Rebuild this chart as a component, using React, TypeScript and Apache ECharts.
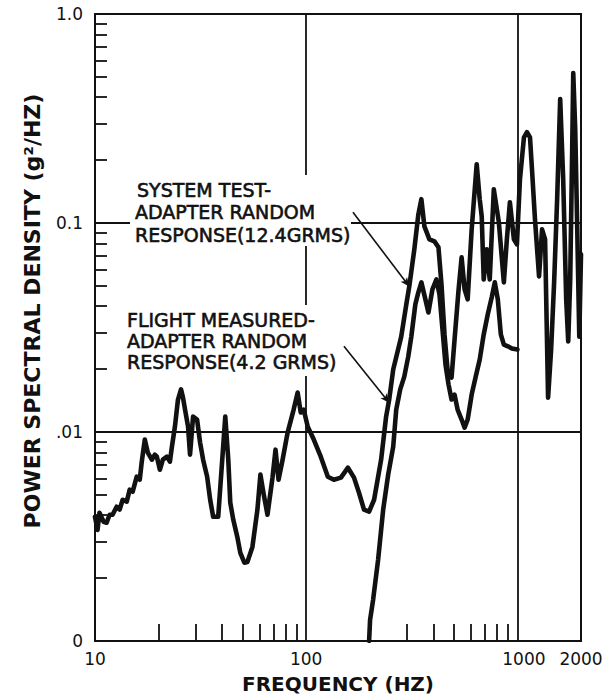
import React, { useEffect, useRef } from "react";
import * as echarts from "echarts";

// [frequency Hz, PSD g^2/Hz]
const systemTest: [number, number][] = [
  [10, 0.00393], [10.28, 0.0034], [10.5, 0.00411], [10.98, 0.00372], [11.35, 0.00368],
  [11.72, 0.00402], [12.11, 0.00402], [12.66, 0.00439], [13.08, 0.00425], [13.52, 0.00474],
  [14.13, 0.00464], [14.6, 0.0053], [15.08, 0.00518], [15.76, 0.00611], [16.29, 0.00591],
  [16.65, 0.00721], [17.21, 0.0092], [17.78, 0.00797], [18.58, 0.00737], [19.2, 0.00779],
  [19.63, 0.00762], [20.28, 0.0066], [20.96, 0.00737], [21.9, 0.00762], [22.63, 0.00721],
  [23.13, 0.00851], [23.9, 0.0106], [24.71, 0.0143], [25.54, 0.016], [26.1, 0.0146],
  [26.69, 0.0128], [27.58, 0.0106], [28.18, 0.00779], [29.13, 0.01185], [30.43, 0.01147],
  [31.45, 0.0089], [32.5, 0.00737], [33.96, 0.00611], [35.1, 0.00474], [36.27, 0.00393],
  [38.31, 0.00393], [40.04, 0.00737], [41.38, 0.01185], [42.76, 0.00737], [43.7, 0.00459],
  [45.16, 0.0038], [47.18, 0.00315], [48.76, 0.00264], [50.95, 0.00237], [52.66, 0.00239],
  [55.63, 0.00282], [58.75, 0.00425], [60.7, 0.00625], [62.73, 0.00512], [65.56, 0.00402],
  [69.25, 0.00605], [71.56, 0.00823], [73.96, 0.00591], [77.3, 0.00737], [81.65, 0.00993],
  [87.2, 0.0128], [91.1, 0.01545], [94.2, 0.0124], [97.3, 0.0128], [101.7, 0.0106],
  [108.6, 0.0092], [117.2, 0.00762], [126.6, 0.00611], [135.2, 0.00591], [146, 0.00605],
  [157.6, 0.00675], [168.4, 0.00605], [177.8, 0.00512], [187.8, 0.00425], [198.5, 0.00416],
  [209.6, 0.00474], [226.3, 0.00737], [239, 0.01185], [247.1, 0.0143], [258.2, 0.0199],
  [281.8, 0.0286], [297.8, 0.0408], [307.6, 0.0497], [325, 0.0748], [339.6, 0.11],
  [351, 0.13], [362.7, 0.0964], [383.1, 0.0835], [404.6, 0.0817], [422.8, 0.0765],
  [437, 0.0508], [451.6, 0.0293], [466.7, 0.0199], [487.6, 0.0182], [504, 0.0277],
  [526.6, 0.0481], [544.2, 0.0685], [562.3, 0.0481], [581.3, 0.0431], [607.3, 0.0933],
  [641.5, 0.191], [662.9, 0.13], [677.5, 0.1077], [692.5, 0.0537], [715.6, 0.0748],
  [739.5, 0.0537], [773, 0.145], [816.6, 0.1008], [862.6, 0.052], [891.3, 0.0835],
  [921.2, 0.1257], [962.3, 0.0835], [994.5, 0.079], [1028, 0.162], [1074, 0.257],
  [1110, 0.272], [1147, 0.257], [1172, 0.181], [1211, 0.104], [1266, 0.0555],
  [1308, 0.0933], [1352, 0.0835], [1397, 0.0146], [1444, 0.0248], [1492, 0.052],
  [1542, 0.13], [1594, 0.3915], [1647, 0.162], [1702, 0.0431], [1740, 0.0271],
  [1778, 0.0537], [1817, 0.2255], [1838, 0.5216], [1878, 0.281], [1920, 0.0933],
  [1963, 0.0286], [2000, 0.0708],
];

const flightMeasured: [number, number][] = [
  [198.5, 0.001], [200.6, 0.00126], [207.3, 0.00157], [219, 0.00245], [231.4, 0.00425],
  [244.4, 0.00625], [258.2, 0.00851], [266.8, 0.0128], [278.7, 0.016], [291.3, 0.0184],
  [304.3, 0.023], [314.5, 0.0286], [328.6, 0.0408], [339.6, 0.0466], [351, 0.052],
  [366.7, 0.0431], [378.9, 0.0373], [395.9, 0.0481], [413.6, 0.0537], [427.6, 0.0455],
  [441.8, 0.031], [456.6, 0.021], [471.8, 0.0169], [487.6, 0.0143], [504, 0.0151],
  [521, 0.0128], [544.2, 0.01147], [562.3, 0.0105], [581.3, 0.01147], [607.3, 0.0151],
  [634.5, 0.0184], [662.9, 0.0222], [692.5, 0.0293], [723.5, 0.0365], [755.9, 0.0441],
  [781.4, 0.052], [807.5, 0.0431], [834.5, 0.0293], [862.6, 0.0262], [901.2, 0.0257],
  [941.5, 0.0251], [1000, 0.0248],
];

const xLabelValues = [10, 100, 1000, 2000];
const xMinorTicks = [20, 30, 40, 50, 60, 70, 80, 90, 200, 300, 400, 500, 600, 700, 800, 900];
const yMinorTicks = [
  0.002, 0.003, 0.004, 0.005, 0.006, 0.007, 0.008, 0.009,
  0.02, 0.03, 0.04, 0.05, 0.06, 0.07, 0.08, 0.09,
  0.2, 0.3, 0.4, 0.5, 0.6, 0.7, 0.8, 0.9,
];
const yTickLabels: [number, string][] = [
  [1, "1.0"], [0.1, "0.1"], [0.01, ".01"], [0.001, "0"],
];
const systemLabelLines = ["SYSTEM TEST-", "ADAPTER RANDOM", "RESPONSE(12.4GRMS)"];
const flightLabelLines = ["FLIGHT MEASURED-", "ADAPTER RANDOM", "RESPONSE(4.2 GRMS)"];
const systemArrow: [number, number][] = [[166.5, 0.1125], [307.6, 0.0497]];
const flightArrow: [number, number][] = [[150.9, 0.0257], [247.1, 0.0138]];

const INK = "#111";
const FONT = '"DejaVu Sans", sans-serif';

export default function App() {
  const ref = useRef<HTMLDivElement>(null);

  useEffect(() => {
    if (!ref.current) return;
    const chart = echarts.init(ref.current, undefined, { renderer: "svg" });

    const textLine = (s: string, x: number, y: number) => ({
      type: "text",
      x,
      y,
      z: 20,
      style: {
        text: s,
        fill: INK,
        stroke: INK,
        lineWidth: 0.6,
        font: `19px ${FONT}`,
        textAlign: "left",
        textVerticalAlign: "middle",
      },
    });

    const arrowLine = (pts: [number, number][]) => ({
      silent: true,
      symbol: ["none", "arrow"],
      symbolSize: [6, 9],
      label: { show: false },
      lineStyle: { color: INK, width: 1.6, type: "solid" },
      emphasis: { disabled: true },
      data: [[{ coord: pts[0] }, { coord: pts[1] }]],
    });

    const option: any = {
      animation: false,
      backgroundColor: "#fff",
      grid: {
        left: 95,
        right: 27,
        top: 14,
        bottom: 57,
        show: true,
        borderColor: INK,
        borderWidth: 2,
        backgroundColor: "transparent",
        outerBoundsMode: "none",
        containLabel: false,
      },
      xAxis: [
        {
          type: "log",
          logBase: 10,
          min: 10,
          max: 2000,
          axisLine: { show: false },
          axisTick: { show: false },
          splitLine: { show: true, lineStyle: { color: INK, width: 1.8 } },
          axisLabel: {
            customValues: xLabelValues,
            formatter: (v: number) => {
              const n = Math.round(v);
              return n === 1000 ? `{r|${n}}` : String(n);
            },
            rich: { r: { padding: [0, 0, 0, 13], fontSize: 17, fontFamily: FONT, color: INK } },
            color: INK,
            fontSize: 17,
            fontFamily: FONT,
            margin: 9,
          },
          name: "FREQUENCY (HZ)",
          nameLocation: "middle",
          nameGap: 33,
          nameTextStyle: { color: INK, fontSize: 20, fontWeight: "bold", fontFamily: FONT },
        },
        {
          type: "log",
          logBase: 10,
          min: 10,
          max: 2000,
          position: "bottom",
          axisLine: { show: false },
          splitLine: { show: false },
          axisLabel: { show: false },
          axisTick: {
            show: true,
            inside: true,
            length: 17,
            customValues: xMinorTicks,
            lineStyle: { color: INK, width: 1.8 },
          },
        },
      ],
      yAxis: [
        {
          type: "log",
          logBase: 10,
          min: 0.001,
          max: 1,
          axisLine: { show: false },
          axisTick: { show: false },
          splitLine: { show: true, lineStyle: { color: INK, width: 1.8 } },
          axisLabel: {
            formatter: (v: number) => {
              const hit = yTickLabels.find(
                ([k]) => Math.abs(Math.log10(v) - Math.log10(k)) < 1e-6
              );
              return hit ? hit[1] : "";
            },
            color: INK,
            fontSize: 17,
            fontFamily: FONT,
            margin: 12,
          },
        },
        {
          type: "log",
          logBase: 10,
          min: 0.001,
          max: 1,
          position: "left",
          axisLine: { show: false },
          splitLine: { show: false },
          axisLabel: { show: false },
          axisTick: {
            show: true,
            inside: true,
            length: 12,
            customValues: yMinorTicks,
            lineStyle: { color: INK, width: 1.8 },
          },
        },
      ],
      series: [
        {
          name: "System test",
          type: "line",
          xAxisIndex: 0,
          yAxisIndex: 0,
          data: systemTest,
          showSymbol: false,
          symbol: "none",
          lineStyle: { color: INK, width: 4.6, join: "round", cap: "round" },
          emphasis: { disabled: true },
          markLine: arrowLine(systemArrow),
          z: 3,
        },
        {
          name: "Flight measured",
          type: "line",
          xAxisIndex: 0,
          yAxisIndex: 0,
          data: flightMeasured,
          showSymbol: false,
          symbol: "none",
          lineStyle: { color: INK, width: 4.6, join: "round", cap: "round" },
          emphasis: { disabled: true },
          markLine: arrowLine(flightArrow),
          z: 3,
        },
      ],
      graphic: [
        { type: "rect", z: 15, shape: { x: 130, y: 175, width: 221, height: 71 }, style: { fill: "#fff" } },
        { type: "rect", z: 15, shape: { x: 122, y: 305, width: 220, height: 71 }, style: { fill: "#fff" } },
        textLine(systemLabelLines[0], 137, 189.5),
        textLine(systemLabelLines[1], 135, 211.5),
        textLine(systemLabelLines[2], 135, 234.5),
        textLine(flightLabelLines[0], 127, 319.5),
        textLine(flightLabelLines[1], 127, 340.5),
        textLine(flightLabelLines[2], 127, 361.5),
        {
          type: "text",
          x: 32.5,
          y: 311,
          rotation: Math.PI / 2,
          z: 20,
          style: {
            text: "POWER SPECTRAL DENSITY (g²/HZ)",
            fill: INK,
            font: `bold 22px ${FONT}`,
            textAlign: "center",
            textVerticalAlign: "middle",
          },
        },
      ],
    };

    chart.setOption(option);
    return () => chart.dispose();
  }, []);

  return (
    <div
      ref={ref}
      style={{ position: "absolute", left: 0, top: 0, width: 608, height: 698, background: "#fff" }}
    />
  );
}
